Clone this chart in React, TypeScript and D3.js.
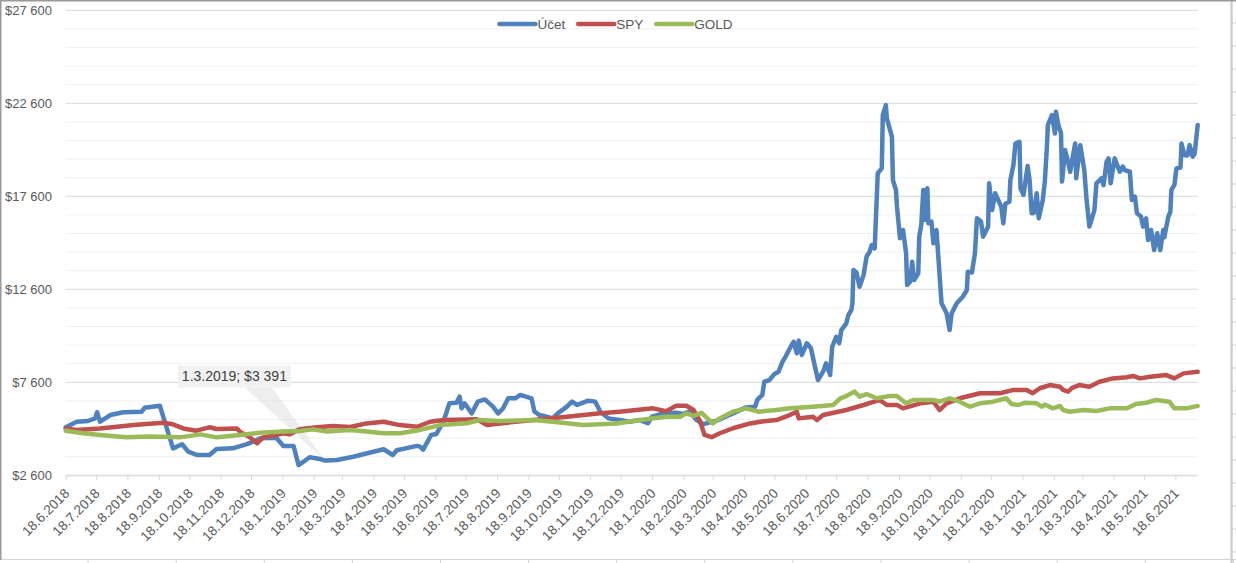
import React, { useEffect, useRef } from 'react';
import * as d3 from 'd3';

// Series values ([date, value in USD])
const ucetData: [string, number][] = [
  ['2018-06-18', 5180], ['2018-06-29', 5480], ['2018-07-10', 5520], ['2018-07-17', 5660],
  ['2018-07-19', 5990], ['2018-07-22', 5480], ['2018-08-01', 5840], ['2018-08-14', 5990],
  ['2018-09-01', 6020], ['2018-09-04', 6230], ['2018-09-19', 6340], ['2018-10-02', 4050],
  ['2018-10-11', 4270], ['2018-10-17', 3870], ['2018-10-26', 3690], ['2018-11-07', 3690],
  ['2018-11-14', 4010], ['2018-11-30', 4050], ['2018-12-14', 4280], ['2018-12-20', 4410],
  ['2018-12-27', 4590], ['2019-01-12', 4620], ['2019-01-19', 4180], ['2019-01-29', 4180],
  ['2019-02-03', 3150], ['2019-02-14', 3570], ['2019-02-24', 3480], ['2019-03-01', 3391],
  ['2019-03-13', 3420], ['2019-03-29', 3600], ['2019-04-14', 3810], ['2019-04-28', 4000],
  ['2019-05-07', 3690], ['2019-05-11', 3950], ['2019-05-31', 4180], ['2019-06-03', 4140],
  ['2019-06-06', 3980], ['2019-06-14', 4770], ['2019-06-19', 4820], ['2019-06-26', 5480],
  ['2019-07-02', 6470], ['2019-07-09', 6500], ['2019-07-12', 6830], ['2019-07-14', 6200],
  ['2019-07-17', 6470], ['2019-07-24', 5930], ['2019-07-30', 6560], ['2019-08-06', 6680],
  ['2019-08-14', 6290], ['2019-08-19', 5930], ['2019-08-24', 6200], ['2019-08-29', 6740],
  ['2019-09-05', 6740], ['2019-09-10', 6920], ['2019-09-21', 6740], ['2019-09-24', 6020],
  ['2019-09-29', 5840], ['2019-10-06', 5750], ['2019-10-12', 5660], ['2019-10-17', 5930],
  ['2019-10-26', 6290], ['2019-10-31', 6560], ['2019-11-05', 6380], ['2019-11-09', 6470],
  ['2019-11-16', 6610], ['2019-11-23', 6560], ['2019-11-28', 6020], ['2019-12-06', 5660],
  ['2019-12-17', 5570], ['2019-12-27', 5480], ['2020-01-06', 5570], ['2020-01-14', 5400],
  ['2020-01-18', 5750], ['2020-01-29', 5930], ['2020-02-11', 5960], ['2020-02-18', 5900],
  ['2020-02-24', 6030], ['2020-03-02', 5570], ['2020-03-09', 5350], ['2020-03-15', 5450],
  ['2020-03-22', 5540], ['2020-04-07', 5930], ['2020-04-20', 6250], ['2020-04-29', 6290],
  ['2020-05-01', 6650], ['2020-05-06', 6920], ['2020-05-08', 7630], ['2020-05-13', 7720],
  ['2020-05-18', 8050], ['2020-05-22', 8170], ['2020-05-26', 8710], ['2020-05-29', 8980],
  ['2020-06-03', 9510], ['2020-06-06', 9780], ['2020-06-09', 9160], ['2020-06-11', 9840],
  ['2020-06-14', 9070], ['2020-06-19', 9700], ['2020-06-23', 9430], ['2020-06-27', 8440],
  ['2020-06-30', 7720], ['2020-07-05', 8170], ['2020-07-08', 8620], ['2020-07-12', 7990],
  ['2020-07-14', 9510], ['2020-07-18', 10050], ['2020-07-21', 9700], ['2020-07-23', 10410],
  ['2020-07-28', 10770], ['2020-07-30', 11220], ['2020-08-02', 11490], ['2020-08-03', 11850],
  ['2020-08-04', 13640], ['2020-08-07', 13500], ['2020-08-10', 12740], ['2020-08-14', 13370],
  ['2020-08-17', 14360], ['2020-08-20', 14620], ['2020-08-22', 14980], ['2020-08-25', 14800],
  ['2020-08-28', 18840], ['2020-09-01', 19100], ['2020-09-02', 21970], ['2020-09-05', 22500],
  ['2020-09-06', 21790], ['2020-09-11', 20800], ['2020-09-12', 18470], ['2020-09-15', 17940],
  ['2020-09-16', 17040], ['2020-09-19', 15340], ['2020-09-22', 15790], ['2020-09-25', 14540],
  ['2020-09-26', 12830], ['2020-09-29', 13010], ['2020-10-01', 14080], ['2020-10-03', 13100],
  ['2020-10-07', 13460], ['2020-10-08', 15430], ['2020-10-10', 16060], ['2020-10-12', 17940],
  ['2020-10-13', 16330], ['2020-10-16', 18030], ['2020-10-17', 16150], ['2020-10-20', 16240],
  ['2020-10-22', 15070], ['2020-10-25', 15790], ['2020-10-30', 11850], ['2020-11-04', 11310],
  ['2020-11-07', 10410], ['2020-11-09', 11310], ['2020-11-14', 11850], ['2020-11-20', 12200],
  ['2020-11-24', 12560], ['2020-11-25', 13550], ['2020-11-29', 13500], ['2020-12-02', 14540],
  ['2020-12-04', 16420], ['2020-12-08', 16240], ['2020-12-10', 15430], ['2020-12-15', 15970],
  ['2020-12-16', 18300], ['2020-12-19', 16860], ['2020-12-22', 17760], ['2020-12-28', 17040],
  ['2020-12-30', 16150], ['2021-01-01', 17200], ['2021-01-05', 17310], ['2021-01-06', 18470],
  ['2021-01-09', 19280], ['2021-01-11', 20440], ['2021-01-15', 20530], ['2021-01-16', 18030],
  ['2021-01-19', 17670], ['2021-01-23', 19230], ['2021-01-25', 18470], ['2021-01-27', 16690],
  ['2021-01-29', 16700], ['2021-02-01', 17760], ['2021-02-03', 16420], ['2021-02-07', 17400],
  ['2021-02-09', 18390], ['2021-02-11', 20170], ['2021-02-12', 21420], ['2021-02-16', 21970],
  ['2021-02-19', 20980], ['2021-02-20', 22150], ['2021-02-22', 21520], ['2021-02-25', 20980],
  ['2021-02-26', 18390], ['2021-03-01', 20090], ['2021-03-04', 19460], ['2021-03-06', 18920],
  ['2021-03-11', 20440], ['2021-03-12', 18570], ['2021-03-16', 20350], ['2021-03-20', 19010],
  ['2021-03-22', 17580], ['2021-03-25', 15970], ['2021-03-30', 16860], ['2021-04-01', 18300],
  ['2021-04-06', 18570], ['2021-04-08', 18200], ['2021-04-11', 19460], ['2021-04-13', 19640],
  ['2021-04-15', 18300], ['2021-04-19', 19640], ['2021-04-24', 18920], ['2021-04-27', 19200],
  ['2021-04-29', 19010], ['2021-05-04', 18920], ['2021-05-06', 17400], ['2021-05-09', 17580],
  ['2021-05-11', 16690], ['2021-05-15', 16510], ['2021-05-17', 15970], ['2021-05-20', 16420],
  ['2021-05-22', 15250], ['2021-05-25', 15790], ['2021-05-28', 14710], ['2021-05-31', 15610],
  ['2021-06-03', 14710], ['2021-06-06', 15790], ['2021-06-07', 15400], ['2021-06-11', 16510],
  ['2021-06-13', 16780], ['2021-06-14', 17940], ['2021-06-17', 18210], ['2021-06-19', 19100],
  ['2021-06-23', 19150], ['2021-06-24', 20440], ['2021-06-27', 19810], ['2021-06-30', 19800],
  ['2021-07-02', 20350], ['2021-07-05', 19730], ['2021-07-07', 19900], ['2021-07-10', 21430]
];

const spyData: [string, number][] = [
  ['2018-06-18', 5120], ['2018-06-29', 5040], ['2018-07-22', 5120], ['2018-08-24', 5300],
  ['2018-09-22', 5430], ['2018-10-02', 5340], ['2018-10-12', 5120], ['2018-10-25', 5000],
  ['2018-11-07', 5180], ['2018-11-14', 5090], ['2018-12-04', 5120], ['2018-12-07', 4950],
  ['2018-12-17', 4640], ['2018-12-24', 4320], ['2018-12-30', 4640], ['2019-01-12', 4770],
  ['2019-01-19', 4860], ['2019-01-25', 4800], ['2019-02-04', 5070], ['2019-02-21', 5180],
  ['2019-03-09', 5250], ['2019-03-26', 5200], ['2019-04-11', 5390], ['2019-04-28', 5480],
  ['2019-05-14', 5300], ['2019-05-31', 5210], ['2019-06-13', 5480], ['2019-06-26', 5570],
  ['2019-07-29', 5610], ['2019-08-08', 5300], ['2019-08-21', 5390], ['2019-09-23', 5570],
  ['2019-10-26', 5750], ['2019-11-28', 5930], ['2019-12-17', 6020], ['2020-01-19', 6200],
  ['2020-02-01', 6050], ['2020-02-11', 6340], ['2020-02-21', 6340], ['2020-02-28', 6110],
  ['2020-03-05', 5570], ['2020-03-10', 4770], ['2020-03-17', 4650], ['2020-03-25', 4860],
  ['2020-04-07', 5130], ['2020-04-24', 5390], ['2020-05-04', 5480], ['2020-05-20', 5570],
  ['2020-06-02', 5840], ['2020-06-09', 6020], ['2020-06-11', 5660], ['2020-06-25', 5750],
  ['2020-06-29', 5570], ['2020-07-05', 5840], ['2020-07-28', 6110], ['2020-08-14', 6380],
  ['2020-08-30', 6650], ['2020-09-06', 6380], ['2020-09-16', 6380], ['2020-09-22', 6200],
  ['2020-10-09', 6470], ['2020-10-22', 6560], ['2020-10-28', 6110], ['2020-11-04', 6470],
  ['2020-11-17', 6740], ['2020-12-07', 7010], ['2020-12-27', 7010], ['2021-01-09', 7190],
  ['2021-01-22', 7190], ['2021-01-28', 7010], ['2021-02-04', 7280], ['2021-02-14', 7450],
  ['2021-02-24', 7360], ['2021-02-27', 7190], ['2021-03-04', 7100], ['2021-03-08', 7300],
  ['2021-03-15', 7450], ['2021-03-25', 7360], ['2021-04-04', 7630], ['2021-04-17', 7810],
  ['2021-05-01', 7870], ['2021-05-07', 7940], ['2021-05-14', 7810], ['2021-05-24', 7900],
  ['2021-06-09', 7990], ['2021-06-17', 7810], ['2021-06-26', 8080], ['2021-07-10', 8170]
];

const goldData: [string, number][] = [
  ['2018-06-18', 5000], ['2018-07-05', 4860], ['2018-07-22', 4770], ['2018-08-17', 4640],
  ['2018-09-09', 4680], ['2018-10-09', 4640], ['2018-10-29', 4800], ['2018-11-14', 4640],
  ['2018-11-30', 4730], ['2018-12-27', 4890], ['2019-01-19', 4950], ['2019-02-04', 4980],
  ['2019-02-17', 5070], ['2019-03-03', 4950], ['2019-03-26', 5040], ['2019-04-11', 4950],
  ['2019-04-28', 4860], ['2019-05-14', 4860], ['2019-06-03', 5040], ['2019-06-23', 5300],
  ['2019-07-19', 5400], ['2019-08-01', 5570], ['2019-08-21', 5520], ['2019-09-23', 5570],
  ['2019-10-12', 5480], ['2019-11-11', 5300], ['2019-12-14', 5390], ['2020-01-06', 5570],
  ['2020-02-01', 5750], ['2020-02-15', 5750], ['2020-02-21', 5930], ['2020-02-28', 5800],
  ['2020-03-07', 5960], ['2020-03-18', 5390], ['2020-03-25', 5660], ['2020-04-07', 6020],
  ['2020-04-20', 6200], ['2020-05-02', 6020], ['2020-05-20', 6110], ['2020-06-02', 6200],
  ['2020-06-25', 6290], ['2020-07-15', 6380], ['2020-07-22', 6740], ['2020-07-28', 6860],
  ['2020-08-05', 7100], ['2020-08-10', 6830], ['2020-08-17', 6970], ['2020-08-27', 6740],
  ['2020-09-09', 6860], ['2020-09-16', 6860], ['2020-09-25', 6470], ['2020-10-02', 6650],
  ['2020-10-22', 6650], ['2020-10-28', 6560], ['2020-11-07', 6740], ['2020-11-17', 6560],
  ['2020-11-27', 6290], ['2020-12-07', 6470], ['2020-12-20', 6560], ['2021-01-02', 6740],
  ['2021-01-07', 6430], ['2021-01-14', 6380], ['2021-01-20', 6500], ['2021-02-01', 6470],
  ['2021-02-06', 6290], ['2021-02-09', 6400], ['2021-02-17', 6200], ['2021-02-24', 6330],
  ['2021-02-27', 6110], ['2021-03-06', 6020], ['2021-03-19', 6110], ['2021-04-01', 6060],
  ['2021-04-14', 6200], ['2021-05-01', 6200], ['2021-05-10', 6430], ['2021-05-20', 6500],
  ['2021-05-30', 6650], ['2021-06-12', 6560], ['2021-06-17', 6200], ['2021-06-29', 6200],
  ['2021-07-10', 6330]
];

const seriesNames = ['Účet', 'SPY', 'GOLD'];
const seriesColors = ['#4f81bd', '#c0504d', '#9bbb59'];

const xTickLabels = [
  '18.6.2018', '18.7.2018', '18.8.2018', '18.9.2018', '18.10.2018', '18.11.2018', '18.12.2018',
  '18.1.2019', '18.2.2019', '18.3.2019', '18.4.2019', '18.5.2019', '18.6.2019', '18.7.2019',
  '18.8.2019', '18.9.2019', '18.10.2019', '18.11.2019', '18.12.2019', '18.1.2020', '18.2.2020',
  '18.3.2020', '18.4.2020', '18.5.2020', '18.6.2020', '18.7.2020', '18.8.2020', '18.9.2020',
  '18.10.2020', '18.11.2020', '18.12.2020', '18.1.2021', '18.2.2021', '18.3.2021', '18.4.2021',
  '18.5.2021', '18.6.2021'
];
const yTicks = [2600, 7600, 12600, 17600, 22600, 27600];
const yMinorStep = 1000;

// Highlighted point (data label callout)
const calloutDate = '2019-03-01';
const calloutValue = 3391;

const W = 1236;
const H = 563;
const FONT = '"Liberation Sans", Arial, sans-serif';

const App: React.FC = () => {
  const svgRef = useRef<SVGSVGElement>(null);

  useEffect(() => {
    document.body.style.margin = '0';
    if (!svgRef.current) return;

    const svg = d3.select(svgRef.current);
    svg.selectAll('*').remove();

    const parse = d3.timeParse('%Y-%m-%d');
    const parseTick = d3.timeParse('%d.%m.%Y');
    const toPoints = (arr: [string, number][]) =>
      arr.map(([d, v]) => ({ date: parse(d) as Date, value: v }));
    const series = [toPoints(ucetData), toPoints(spyData), toPoints(goldData)];

    // plot area
    const left = 65.7;
    const right = 1197.7;
    const top = 10.3;
    const bottom = 475.3;

    const allDates = series.flat().map(d => d.date);
    const x = d3.scaleTime()
      .domain(d3.extent(allDates) as [Date, Date])
      .range([left, right]);
    const y = d3.scaleLinear()
      .domain([yTicks[0], yTicks[yTicks.length - 1]])
      .range([bottom, top]);

    // sheet / chart frame
    const frame = svg.append('g');
    frame.append('rect').attr('x', 0).attr('y', 0).attr('width', W).attr('height', H).attr('fill', '#fff');
    frame.append('line').attr('x1', 0).attr('x2', W).attr('y1', 559.5).attr('y2', 559.5)
      .attr('stroke', '#d4d4d4');
    d3.range(88.1, W, 88.1).forEach(cx => {
      frame.append('line').attr('x1', cx).attr('x2', cx).attr('y1', 559.5).attr('y2', H)
        .attr('stroke', '#d4d4d4');
    });
    d3.range(23, H, 23).forEach(cy => {
      frame.append('line').attr('x1', 1232).attr('x2', W).attr('y1', cy).attr('y2', cy)
        .attr('stroke', '#d4d4d4');
    });
    frame.append('line').attr('x1', 1231.5).attr('x2', 1231.5).attr('y1', 0).attr('y2', H)
      .attr('stroke', '#d0d0d0').attr('stroke-width', 2.5);
    frame.append('line').attr('x1', 0.75).attr('x2', 0.75).attr('y1', 0).attr('y2', 560)
      .attr('stroke', '#9a9a9a').attr('stroke-width', 1.5);
    frame.append('line').attr('x1', 0).attr('x2', W).attr('y1', 0.75).attr('y2', 0.75)
      .attr('stroke', '#9a9a9a').attr('stroke-width', 1.5);

    // gridlines
    const minorTicks = d3.range(yTicks[0], yTicks[yTicks.length - 1], yMinorStep)
      .filter(v => !yTicks.includes(v));
    svg.append('g').selectAll('line').data(minorTicks).join('line')
      .attr('x1', left).attr('x2', right)
      .attr('y1', d => y(d)).attr('y2', d => y(d))
      .attr('stroke', '#f0f0f0').attr('stroke-width', 1);
    svg.append('g').selectAll('line').data(yTicks).join('line')
      .attr('x1', left).attr('x2', right)
      .attr('y1', d => y(d)).attr('y2', d => y(d))
      .attr('stroke', '#d9d9d9').attr('stroke-width', 1);

    // y axis labels
    const locale = d3.formatLocale({ decimal: ',', thousands: ' ', grouping: [3], currency: ['$', ''] });
    const fmt = locale.format('$,.0f');
    svg.append('g').selectAll('text').data(yTicks).join('text')
      .attr('x', 52).attr('y', d => y(d))
      .attr('dy', '0.35em')
      .attr('text-anchor', 'end')
      .attr('font-family', FONT).attr('font-size', 13).attr('fill', '#595959')
      .text(d => fmt(d));

    // x axis
    const tickDates = xTickLabels.map(t => parseTick(t) as Date);
    const xAxis = d3.axisBottom(x)
      .tickValues(tickDates)
      .tickSize(5)
      .tickSizeOuter(0)
      .tickFormat((_, i) => xTickLabels[i]);
    const gx = svg.append('g')
      .attr('transform', `translate(0,${bottom})`)
      .call(xAxis);
    gx.select('.domain').attr('stroke', '#d9d9d9');
    gx.selectAll('.tick line').attr('stroke', '#d9d9d9');
    gx.selectAll('.tick text')
      .attr('font-family', FONT).attr('font-size', 13.5).attr('fill', '#595959')
      .attr('text-anchor', 'end')
      .attr('y', 0).attr('dy', 0)
      .attr('transform', 'translate(4,19) rotate(-45)');

    // callout for the highlighted point
    const px = x(parse(calloutDate) as Date);
    const py = y(calloutValue);
    const boxR = px - 34;
    const boxB = py - 73;
    const boxW = 113;
    const boxH = 22;
    const callout = svg.append('g');
    callout.append('path')
      .attr('d', `M${boxR - 46},${boxB} L${boxR - 19},${boxB} L${px},${py} Z`)
      .attr('fill', '#d9d9d9').attr('fill-opacity', 0.45);
    callout.append('rect')
      .attr('x', boxR - boxW).attr('y', boxB - boxH)
      .attr('width', boxW).attr('height', boxH)
      .attr('fill', '#f2f2f2');
    callout.append('text')
      .attr('x', boxR - boxW / 2).attr('y', boxB - boxH / 2).attr('dy', '0.35em')
      .attr('text-anchor', 'middle')
      .attr('font-family', FONT).attr('font-size', 14).attr('fill', '#404040')
      .text(`${d3.timeFormat('%-d.%-m.%Y')(parse(calloutDate) as Date)}; ${fmt(calloutValue)}`);

    // lines
    const line = d3.line<{ date: Date; value: number }>()
      .x(d => x(d.date))
      .y(d => y(d.value));
    series.forEach((s, i) => {
      svg.append('path')
        .datum(s)
        .attr('d', line)
        .attr('fill', 'none')
        .attr('stroke', seriesColors[i])
        .attr('stroke-width', 4.5)
        .attr('stroke-linejoin', 'round')
        .attr('stroke-linecap', 'round');
    });

    // legend, centred on the chart area
    const legend = svg.append('g');
    const sampleLen = 36;
    const gap = 13;
    let cursor = 0;
    seriesNames.forEach((name, i) => {
      const item = legend.append('g').attr('transform', `translate(${cursor},0)`);
      item.append('line')
        .attr('x1', 0).attr('x2', sampleLen).attr('y1', 0).attr('y2', 0)
        .attr('stroke', seriesColors[i]).attr('stroke-width', 4.5).attr('stroke-linecap', 'round');
      const t = item.append('text')
        .attr('x', sampleLen + 2).attr('dy', '0.35em')
        .attr('font-family', FONT).attr('font-size', 13.5).attr('fill', '#595959')
        .text(name);
      const tw = (t.node() as SVGTextElement).getComputedTextLength();
      cursor += sampleLen + 2 + tw + gap;
    });
    const legendW = cursor - gap;
    legend.attr('transform', `translate(${1232 / 2 - legendW / 2},24)`);
  }, []);

  return (
    <div style={{ width: W, height: H, overflow: 'hidden' }}>
      <svg ref={svgRef} width={W} height={H} style={{ display: 'block' }}></svg>
    </div>
  );
};

export default App;
